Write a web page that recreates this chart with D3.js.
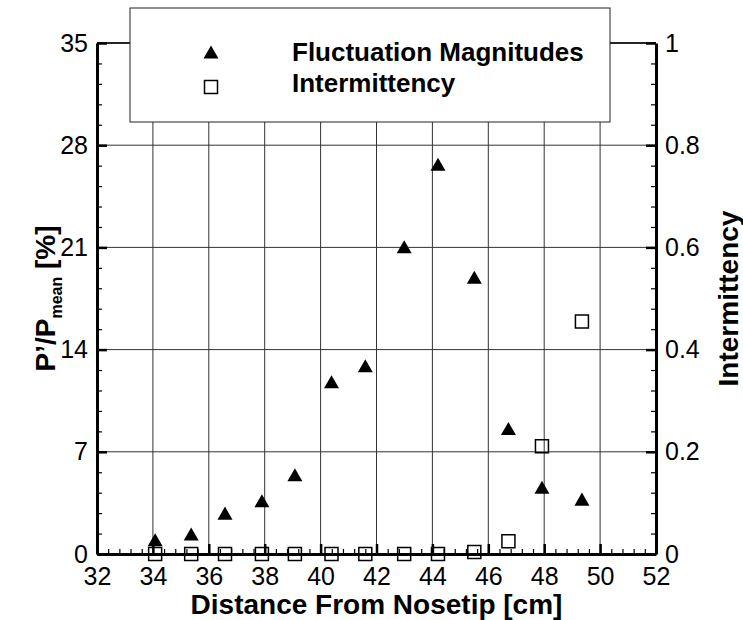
<!DOCTYPE html>
<html>
<head>
<meta charset="utf-8">
<script src="https://cdn.jsdelivr.net/npm/d3@7"></script>
<style>
  html, body { margin: 0; padding: 0; background: #fff; }
  svg { display: block; font-family: "Liberation Sans", Arial, sans-serif; }
</style>
</head>
<body>
<svg id="chart" width="743" height="620"></svg>
<script>
// station positions along the body [cm]
const distance = [34.08, 35.37, 36.58, 37.9, 39.08, 40.39, 41.6, 42.99, 44.2, 45.5, 46.72, 47.92, 49.35];
// P'/Pmean [%]
const fluctuation = [0.98, 1.37, 2.8, 3.65, 5.43, 11.8, 12.9, 21.05, 26.7, 18.96, 8.6, 4.57, 3.76];
// intermittency factor
const intermittency = [0, 0, 0, 0, 0, 0, 0, 0, 0, 0.004, 0.025, 0.211, 0.455];

const xTicks = [32, 34, 36, 38, 40, 42, 44, 46, 48, 50, 52];
const leftTicks = [0, 7, 14, 21, 28, 35];
const rightTicks = [0, 0.2, 0.4, 0.6, 0.8, 1];
const legendLabels = ["Fluctuation Magnitudes", "Intermittency"];

const svg = d3.select("#chart");
const plotLeft = 97, plotRight = 656, plotTop = 43, plotBottom = 554;
const tickFont = 25, titleFont = 28;

const x = d3.scaleLinear().domain([32, 52]).range([plotLeft, plotRight]);
const yL = d3.scaleLinear().domain([0, 35]).range([plotBottom, plotTop]);
const yR = d3.scaleLinear().domain([0, 1]).range([plotBottom, plotTop]);

// minor tick values between the majors
const minor = (scale, majorStep, n) => {
  const [a, b] = scale.domain();
  const out = [];
  for (let v = a; v < b - 1e-9; v += majorStep) {
    for (let k = 1; k < n; k++) out.push(v + (majorStep * k) / n);
  }
  return out;
};

// grid
const grid = svg.append("g").attr("stroke", "#333").attr("stroke-width", 1);
grid.selectAll("line.v")
  .data(xTicks.slice(1, -1))
  .join("line")
  .attr("class", "v")
  .attr("x1", d => x(d)).attr("x2", d => x(d))
  .attr("y1", plotTop).attr("y2", plotBottom);
grid.selectAll("line.h")
  .data(leftTicks.slice(1))
  .join("line")
  .attr("class", "h")
  .attr("x1", plotLeft).attr("x2", plotRight)
  .attr("y1", d => yL(d)).attr("y2", d => yL(d));

// axes
function styleAxis(g, width) {
  g.select(".domain").attr("stroke", "#000").attr("stroke-width", width);
  g.selectAll(".tick line").attr("stroke", "#000").attr("stroke-width", 2.5);
  g.selectAll("text")
    .attr("fill", "#000")
    .attr("font-size", tickFont)
    .attr("font-family", "'Liberation Sans', Arial, sans-serif");
}

function minorTicks(g) {
  g.select(".domain").remove();
  g.selectAll(".tick line").attr("stroke", "#000").attr("stroke-width", 1.2);
}

svg.append("g").attr("transform", `translate(0,${plotBottom})`)
  .call(d3.axisBottom(x).tickValues(minor(x, 2, 5)).tickSize(-5).tickFormat(""))
  .call(minorTicks);
const gxMajor = svg.append("g").attr("transform", `translate(0,${plotBottom})`)
  .call(d3.axisBottom(x).tickValues(xTicks).tickSize(-10).tickSizeOuter(0).tickPadding(13).tickFormat(d3.format("d")));
styleAxis(gxMajor, 3);

svg.append("g").attr("transform", `translate(${plotLeft},0)`)
  .call(d3.axisLeft(yL).tickValues(minor(yL, 7, 5)).tickSize(-5).tickFormat(""))
  .call(minorTicks);
const gyMajor = svg.append("g").attr("transform", `translate(${plotLeft},0)`)
  .call(d3.axisLeft(yL).tickValues(leftTicks).tickSize(-10).tickSizeOuter(0).tickPadding(9).tickFormat(d3.format("d")));
styleAxis(gyMajor, 3);

svg.append("g").attr("transform", `translate(${plotRight},0)`)
  .call(d3.axisRight(yR).tickValues(minor(yR, 0.2, 5)).tickSize(-5).tickFormat(""))
  .call(minorTicks);
const grMajor = svg.append("g").attr("transform", `translate(${plotRight},0)`)
  .call(d3.axisRight(yR).tickValues(rightTicks).tickSize(-10).tickSizeOuter(0).tickPadding(9)
    .tickFormat(d => d === 0 || d === 1 ? d3.format("d")(d) : d3.format(".1f")(d)));
styleAxis(grMajor, 3);

// top frame
svg.append("line")
  .attr("x1", plotLeft).attr("x2", plotRight)
  .attr("y1", plotTop).attr("y2", plotTop)
  .attr("stroke", "#000").attr("stroke-width", 1.5);

// triangle centred on its bounding box
const triangle = {
  draw(ctx, size) {
    const w = Math.sqrt(size), h = w * 0.87;
    ctx.moveTo(0, -h / 2);
    ctx.lineTo(w / 2, h / 2);
    ctx.lineTo(-w / 2, h / 2);
    ctx.closePath();
  }
};
const triPath = d3.symbol().type(triangle).size(225)();
const sqPath = d3.symbol().type(d3.symbolSquare).size(169)();

const points = distance.map((d, i) => ({ d, f: fluctuation[i], g: intermittency[i] }));

svg.append("g").selectAll("path")
  .data(points)
  .join("path")
  .attr("d", sqPath)
  .attr("transform", p => `translate(${x(p.d)},${yR(p.g)})`)
  .attr("fill", "none")
  .attr("stroke", "#000")
  .attr("stroke-width", 1.5);

svg.append("g").selectAll("path")
  .data(points)
  .join("path")
  .attr("d", triPath)
  .attr("transform", p => `translate(${x(p.d)},${yL(p.f)})`)
  .attr("fill", "#000");

// axis titles
svg.append("text")
  .attr("x", (plotLeft + plotRight) / 2)
  .attr("y", 614)
  .attr("text-anchor", "middle")
  .attr("font-size", 28)
  .attr("font-weight", "bold")
  .text("Distance From Nosetip [cm]");

const yTitle = svg.append("text")
  .attr("transform", `translate(55,${(plotTop + plotBottom) / 2}) rotate(-90)`)
  .attr("text-anchor", "middle")
  .attr("font-size", titleFont)
  .attr("font-weight", "bold");
yTitle.append("tspan").text("P’/P");
yTitle.append("tspan").attr("font-size", 16).attr("dy", 7).text("mean");
yTitle.append("tspan").attr("dy", -7).text(" [%]");

svg.append("text")
  .attr("transform", `translate(738,${(plotTop + plotBottom) / 2}) rotate(-90)`)
  .attr("text-anchor", "middle")
  .attr("font-size", titleFont)
  .attr("font-weight", "bold")
  .text("Intermittency");

// legend
const legend = svg.append("g");
legend.append("rect")
  .attr("x", 130).attr("y", 8)
  .attr("width", 480).attr("height", 114)
  .attr("fill", "#fff")
  .attr("stroke", "#222")
  .attr("stroke-width", 1);

const legendRows = [
  { label: legendLabels[0], symbol: triPath, filled: true, cy: 52, base: 61 },
  { label: legendLabels[1], symbol: sqPath, filled: false, cy: 87, base: 92 }
];
legend.selectAll("path.key")
  .data(legendRows)
  .join("path")
  .attr("class", "key")
  .attr("d", r => r.symbol)
  .attr("transform", r => `translate(211,${r.cy})`)
  .attr("fill", r => r.filled ? "#000" : "none")
  .attr("stroke", r => r.filled ? "none" : "#000")
  .attr("stroke-width", 1.5);
legend.selectAll("text")
  .data(legendRows)
  .join("text")
  .attr("x", 292)
  .attr("y", r => r.base)
  .attr("font-size", 26)
  .attr("font-weight", "bold")
  .text(r => r.label);
</script>
</body>
</html>
